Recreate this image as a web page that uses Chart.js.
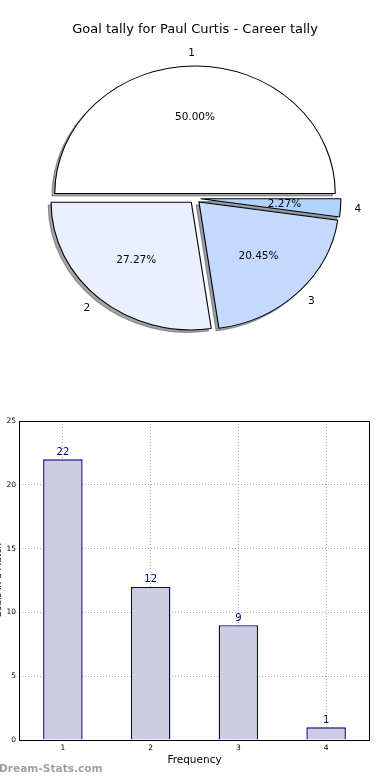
<!DOCTYPE html>
<html><head><meta charset="utf-8">
<script src="https://cdn.jsdelivr.net/npm/chart.js@4.4.1/dist/chart.umd.min.js"></script>
<style>
html,body{margin:0;padding:0;background:#fff;width:390px;height:780px;overflow:hidden;}
#pieCanvas{position:absolute;left:0;top:0;}
#barCanvas{position:absolute;left:0;top:396px;}
#wm{position:absolute;left:-1px;top:762px;font:bold 10.6px 'DejaVu Sans';color:#a0a0a0;white-space:nowrap;}
</style></head><body>
<canvas id="pieCanvas" width="390" height="397"></canvas>
<canvas id="barCanvas" width="390" height="384"></canvas>
<div id="wm">Dream-Stats.com</div>
<script>
// ---- data ----
const chartTitle = 'Goal tally for Paul Curtis - Career tally';
const categories = ['1', '2', '3', '4'];
const matchCounts = [22, 12, 9, 1];
const pieColors = ['#ffffff', '#eaf0ff', '#c5d9ff', '#b3d3ff'];
const xAxisTitle = 'Frequency';
const yAxisTitle = 'Goals in a Match';

Chart.defaults.font.family = "'DejaVu Sans'";

// ---- pie ----
const SX = 1.1;        // horizontal stretch of the pie
const EXPLODE = 5.1;   // px
const total = matchCounts.reduce((a, b) => a + b, 0);
const pieOrder = [3, 2, 1, 0]; // clockwise from east

function shadowOf(col) {
  const h = col.replace('#', '');
  const r = parseInt(h.substr(0, 2), 16), g = parseInt(h.substr(2, 2), 16), b = parseInt(h.substr(4, 2), 16);
  return `rgba(${Math.round(r * .3)},${Math.round(g * .3)},${Math.round(b * .3)},0.5)`;
}
function ellipse(ctx, cx) { ctx.translate(cx, 0); ctx.scale(SX, 1); ctx.translate(-cx, 0); }

const explodePlugin = {
  id: 'explode',
  afterUpdate(chart) {
    chart.getDatasetMeta(0).data.forEach(a => {
      const m = (a.startAngle + a.endAngle) / 2;
      a.x += Math.cos(m) * EXPLODE;
      a.y += Math.sin(m) * EXPLODE;
    });
  },
  beforeDatasetsDraw(chart) {
    const ctx = chart.ctx, ca = chart.chartArea, cx = (ca.left + ca.right) / 2;
    const meta = chart.getDatasetMeta(0);
    ctx.save();
    ctx.translate(-2.8, 2.55);
    ellipse(ctx, cx);
    meta.data.forEach(arc => {
      const o = arc.options;
      const c = shadowOf(o.backgroundColor);
      arc.options = Object.assign({}, o, { backgroundColor: c, borderColor: c });
      arc.draw(ctx);
      arc.options = o;
    });
    ctx.restore();
    ctx.save();
    ellipse(ctx, cx);
  },
  afterDatasetsDraw(chart) { chart.ctx.restore(); },
  afterDraw(chart) {
    const ctx = chart.ctx, ca = chart.chartArea, cx = (ca.left + ca.right) / 2;
    const meta = chart.getDatasetMeta(0);
    const vals = chart.data.datasets[0].data;
    ctx.save();
    ctx.fillStyle = '#000';
    ctx.textBaseline = 'middle';
    ctx.font = "13px 'DejaVu Sans'";
    ctx.textAlign = 'center';
    ctx.fillText(chartTitle, cx, 30);
    ctx.font = "10.5px 'DejaVu Sans'";
    meta.data.forEach((arc, i) => {
      const m = (arc.startAngle + arc.endAngle) / 2;
      const r = arc.outerRadius;
      const lx = cx + SX * (arc.x + 1.1 * r * Math.cos(m) - cx);
      const ly = arc.y + 1.1 * r * Math.sin(m);
      ctx.textAlign = Math.cos(m) >= 0 ? 'left' : 'right';
      ctx.fillText(chart.data.labels[i], lx, ly);
      const px = cx + SX * (arc.x + 0.6 * r * Math.cos(m) - cx);
      const py = arc.y + 0.6 * r * Math.sin(m);
      ctx.textAlign = 'center';
      ctx.fillText((vals[i] / total * 100).toFixed(2) + '%', px, py);
    });
    ctx.restore();
  }
};

new Chart(document.getElementById('pieCanvas'), {
  type: 'pie',
  data: {
    labels: pieOrder.map(i => categories[i]),
    datasets: [{
      data: pieOrder.map(i => matchCounts[i]),
      backgroundColor: pieOrder.map(i => pieColors[i]),
      borderColor: '#000',
      borderWidth: 1,
      radius: 127.5,
      rotation: 90
    }]
  },
  options: {
    responsive: false, animation: false, events: [],
    layout: { padding: 0 },
    plugins: { legend: { display: false }, tooltip: { enabled: false } }
  },
  plugins: [explodePlugin]
});

// ---- bar ----
const boxPlugin = {
  id: 'box',
  afterDatasetsDraw(chart) {
    const ctx = chart.ctx;
    ctx.save();
    ctx.fillStyle = '#000080';
    ctx.font = "10px 'DejaVu Sans'";
    ctx.textAlign = 'center';
    ctx.textBaseline = 'bottom';
    const vals = chart.data.datasets[0].data;
    chart.getDatasetMeta(0).data.forEach((b, i) => ctx.fillText(String(vals[i]), b.x, b.y - 2));
    ctx.restore();
  },
  afterDraw(chart) {
    const ctx = chart.ctx, a = chart.chartArea;
    ctx.save();
    ctx.strokeStyle = '#000';
    ctx.lineWidth = 1;
    ctx.strokeRect(Math.round(a.left) + 0.5, Math.round(a.top) + 0.5, Math.round(a.right - a.left) - 1, Math.round(a.bottom - a.top));
    ctx.restore();
  }
};

const tickFont = { family: "'DejaVu Sans'", size: 7.5 };
new Chart(document.getElementById('barCanvas'), {
  type: 'bar',
  data: {
    labels: categories,
    datasets: [{
      data: matchCounts,
      backgroundColor: '#cccce4',
      borderColor: '#000080',
      borderWidth: 1.4,
      barPercentage: 0.45,
      categoryPercentage: 1
    }]
  },
  options: {
    responsive: false, animation: false, events: [],
    layout: { padding: { left: 0, right: 20, top: 25, bottom: 0 } },
    plugins: { legend: { display: false }, tooltip: { enabled: false } },
    scales: {
      x: {
        z: 1, offset: true,
        grid: { offset: false, color: '#aaaaaa', lineWidth: 1, drawTicks: false },
        border: { display: false, dash: [1, 2] },
        ticks: { font: tickFont, color: '#000', padding: 4, maxRotation: 0 },
        title: { display: true, text: xAxisTitle, color: '#000', font: { family: "'DejaVu Sans'", size: 10.5 }, padding: { top: 0, bottom: 13.5 } },
        afterFit(s) { s.height = 40; }
      },
      y: {
        z: 1, min: 0, max: 25,
        grid: { color: '#aaaaaa', lineWidth: 1, drawTicks: false },
        border: { display: false, dash: [1, 2] },
        ticks: { stepSize: 5, font: tickFont, color: '#000', padding: 3 },
        title: { display: true, text: yAxisTitle, color: '#000', font: { family: "'DejaVu Sans'", size: 9 }, padding: { top: -7, bottom: 0 } },
        afterFit(s) { s.width = 19; }
      }
    }
  },
  plugins: [boxPlugin]
});
</script>
</body></html>
